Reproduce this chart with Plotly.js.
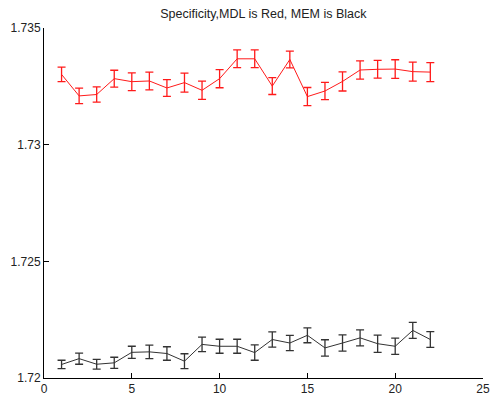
<!DOCTYPE html>
<html><head><meta charset="utf-8">
<script src="https://cdn.plot.ly/plotly-3.0.1.min.js"></script>
<style>html,body{margin:0;padding:0;background:#fff}#chart{width:490px;height:402px}</style>
</head><body><div id="chart"></div>
<script>
var xs = [1,2,3,4,5,6,7,8,9,10,11,12,13,14,15,16,17,18,19,20,21,22];
var mdl = [1.73301,1.73209,1.73215,1.73283,1.7327,1.73273,1.73243,1.73266,1.73233,1.73283,1.73368,1.73368,1.73251,1.73365,1.73206,1.7323,1.73271,1.7332,1.73323,1.73324,1.73313,1.73311];
var mdlErr = [0.00031,0.00033,0.00033,0.00036,0.00038,0.00038,0.00036,0.00041,0.00039,0.00039,0.00038,0.00038,0.00036,0.00036,0.00039,0.00037,0.00041,0.00039,0.00038,0.0004,0.00041,0.00041];
var mem = [1.72058,1.72083,1.72059,1.72065,1.7211,1.72112,1.72105,1.72072,1.72144,1.72136,1.72136,1.72109,1.72165,1.7215,1.72183,1.72129,1.7215,1.72172,1.72147,1.72136,1.72204,1.72165];
var memErr = [0.00018,0.00024,0.00021,0.00024,0.00026,0.00029,0.00029,0.00032,0.00031,0.0003,0.0003,0.00033,0.00033,0.00033,0.00032,0.00035,0.00035,0.00034,0.00037,0.00035,0.00034,0.00034];
var xTicks = [0,5,10,15,20,25];
var yTicks = [1.72,1.725,1.73,1.735];
var yTickText = ['1.72','1.725','1.73','1.735'];

function tr(y, e, c) {
  return {x: xs, y: y, type: 'scatter', mode: 'lines',
    line: {color: c, width: 1},
    error_y: {type: 'data', array: e, visible: true, color: c, thickness: 1.3, width: 4},
    hoverinfo: 'none'};
}
var data = [tr(mdl, mdlErr, '#ff1a1a'), tr(mem, memErr, '#333333')];
var axFont = {family: 'Liberation Sans, Arial, sans-serif', size: 12, color: '#222'};
var layout = {
  width: 490, height: 402,
  margin: {l: 44, r: 7, t: 28, b: 24},
  paper_bgcolor: '#fff', plot_bgcolor: '#fff',
  showlegend: false,
  title: {text: 'Specificity,MDL is Red, MEM is Black', x: 0.5375, xanchor: 'center', y: 0.965, yanchor: 'middle',
    font: {family: 'Liberation Sans, Arial, sans-serif', size: 12.5, color: '#222'}},
  xaxis: {range: [0, 25], tickvals: xTicks, ticktext: xTicks.map(String), showgrid: false, zeroline: false,
    showline: true, linecolor: '#000', linewidth: 1, ticks: 'inside', ticklen: 5, tickcolor: '#000',
    tickfont: axFont, mirror: false},
  yaxis: {range: [1.72, 1.735], tickvals: yTicks, ticktext: yTickText, showgrid: false, zeroline: false,
    showline: true, linecolor: '#000', linewidth: 1, ticks: 'inside', ticklen: 5, tickcolor: '#000',
    tickfont: axFont, mirror: false}
};
Plotly.newPlot('chart', data, layout, {displayModeBar: false, staticPlot: true});
</script>
</body></html>
